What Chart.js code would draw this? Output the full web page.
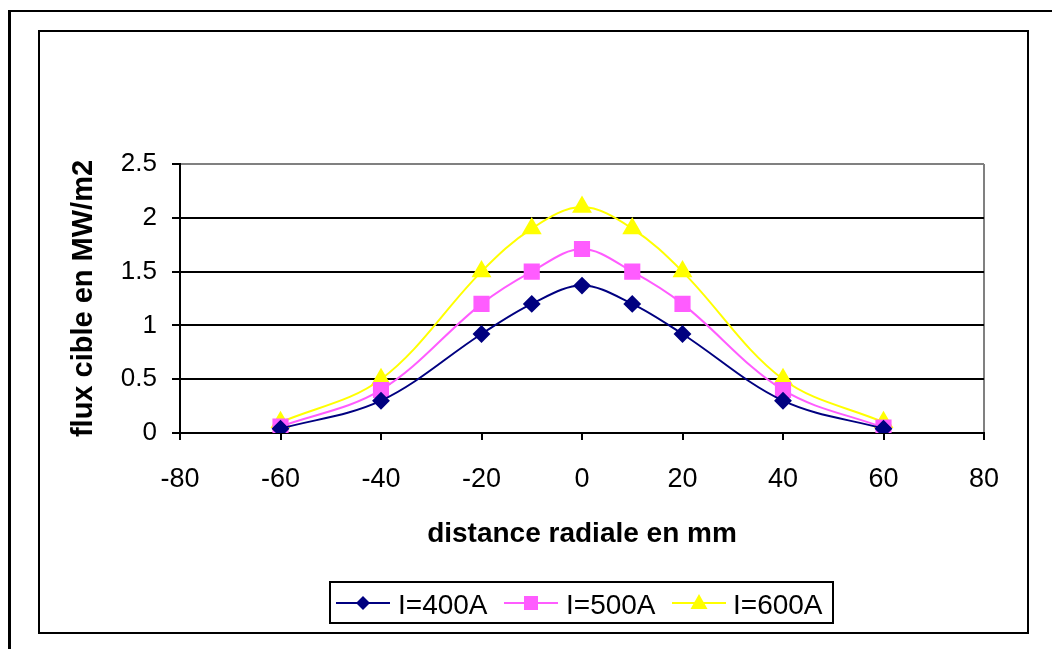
<!DOCTYPE html>
<html>
<head>
<meta charset="utf-8">
<script src="https://cdn.jsdelivr.net/npm/chart.js@4"></script>
<style>
  html, body { margin: 0; padding: 0; background: #fff; overflow: hidden; width: 1052px; height: 649px; }
  #outer { position: absolute; left: 8px; top: 10px; width: 1200px; height: 800px; border-top: 2px solid #000; border-left: 3px solid #000; }
  #inner { position: absolute; left: 38px; top: 30px; width: 991px; height: 604px; box-sizing: border-box; border: 2px solid #000; }
  #c { position: absolute; left: 0; top: 0; }
</style>
</head>
<body>
<div id="outer"></div>
<div id="inner"></div>
<canvas id="c" width="1052" height="649"></canvas>
<script>
// ---- data ----
const distances = [-60, -40, -20, -10, 0, 10, 20, 40, 60];
const flux400 = [0.04, 0.3, 0.92, 1.2, 1.37, 1.2, 0.92, 0.3, 0.04];
const flux500 = [0.06, 0.4, 1.2, 1.5, 1.71, 1.5, 1.2, 0.4, 0.05];
const flux600 = [0.1, 0.5, 1.5, 1.9, 2.1, 1.9, 1.5, 0.5, 0.1];
const seriesLabels = ['I=400A', 'I=500A', 'I=600A'];
const xTickValues = [-80, -60, -40, -20, 0, 20, 40, 60, 80];
const yTickValues = [0, 0.5, 1, 1.5, 2, 2.5];
const yTickLabels = ['0', '0.5', '1', '1.5', '2', '2.5'];

const FONT = '"Liberation Sans", Arial, sans-serif';
const toPts = arr => arr.map((v, i) => ({ x: distances[i], y: v }));

function drawMarker(ctx, style, color, x, y) {
  ctx.save();
  ctx.fillStyle = color;
  ctx.beginPath();
  if (style === 'rectRot') {
    ctx.moveTo(x, y - 7); ctx.lineTo(x + 7, y); ctx.lineTo(x, y + 7); ctx.lineTo(x - 7, y);
  } else if (style === 'rect') {
    ctx.rect(x - 7, y - 7, 14, 14);
  } else {
    ctx.moveTo(x, y - 9); ctx.lineTo(x + 8.5, y + 6); ctx.lineTo(x - 8.5, y + 6);
  }
  ctx.closePath();
  ctx.fill();
  ctx.restore();
}

const legendPlugin = {
  id: 'excelLegend',
  afterDraw(chart) {
    const ctx = chart.ctx;
    ctx.save();
    ctx.strokeStyle = '#000';
    ctx.lineWidth = 2;
    ctx.strokeRect(330, 582, 503, 41);
    const lineStarts = [336, 504, 672];
    const textStarts = [398, 566, 733];
    const ly = 603;
    chart.data.datasets.forEach((ds, i) => {
      ctx.strokeStyle = ds.borderColor;
      ctx.lineWidth = 2;
      ctx.beginPath();
      ctx.moveTo(lineStarts[i], ly);
      ctx.lineTo(lineStarts[i] + 54, ly);
      ctx.stroke();
      drawMarker(ctx, ds.pointStyle, ds.borderColor, lineStarts[i] + 27, ly);
      ctx.fillStyle = '#000';
      ctx.font = '28px ' + FONT;
      ctx.textBaseline = 'middle';
      ctx.textAlign = 'left';
      ctx.fillText(ds.label, textStarts[i], 606);
    });
    ctx.restore();
  }
};

new Chart(document.getElementById('c'), {
  type: 'line',
  data: {
    datasets: [
      { label: seriesLabels[0], data: toPts(flux400), borderColor: '#000080', backgroundColor: '#000080',
        pointStyle: 'rectRot', pointRadius: 7.5, borderWidth: 2, tension: 0.35 },
      { label: seriesLabels[1], data: toPts(flux500), borderColor: '#FF5CFF', backgroundColor: '#FF5CFF',
        pointStyle: 'rect', pointRadius: 10, borderWidth: 2, tension: 0.35 },
      { label: seriesLabels[2], data: toPts(flux600), borderColor: '#FFFF00', backgroundColor: '#FFFF00',
        pointStyle: 'triangle', pointRadius: 9.5, borderWidth: 2, tension: 0.35 }
    ]
  },
  options: {
    responsive: false,
    animation: false,
    devicePixelRatio: 1,
    layout: { padding: { left: 40, top: 164, right: 68, bottom: 96 } },
    plugins: { legend: { display: false }, tooltip: { enabled: false } },
    elements: { point: { borderWidth: 0 } },
    scales: {
      x: {
        type: 'linear', min: -80, max: 80,
        afterBuildTicks: s => { s.ticks = xTickValues.map(v => ({ value: v })); },
        afterFit: s => { s.height = 120; },
        border: { color: '#000', width: 2 },
        grid: {
          color: c => (c.tick && c.tick.value === 80) ? '#808080' : 'rgba(0,0,0,0)',
          tickColor: '#000', lineWidth: 2, tickLength: 7, drawTicks: true
        },
        ticks: { color: '#000', font: { family: FONT, size: 27 }, padding: 23, maxRotation: 0 },
        title: { display: true, text: 'distance radiale en mm', color: '#000',
          font: { family: FONT, size: 28, weight: 'bold' }, padding: { top: 0, bottom: 2 } }
      },
      y: {
        min: 0, max: 2.5,
        afterBuildTicks: s => { s.ticks = yTickValues.map(v => ({ value: v })); },
        afterFit: s => { s.width = 140; },
        border: { color: '#000', width: 2 },
        grid: {
          color: c => (c.tick && c.tick.value === 2.5) ? '#808080' : '#000',
          tickColor: '#000', lineWidth: 2, tickLength: 8
        },
        ticks: { color: '#000', font: { family: FONT, size: 26 }, padding: 15,
          callback: (v) => { const i = yTickValues.indexOf(v); return i >= 0 ? yTickLabels[i] : ''; } },
        title: { display: true, text: 'flux cible en MW/m2', color: '#000',
          font: { family: FONT, size: 29, weight: 'bold' }, padding: { top: 27, bottom: 0 } }
      }
    }
  },
  plugins: [legendPlugin]
});
</script>
</body>
</html>
